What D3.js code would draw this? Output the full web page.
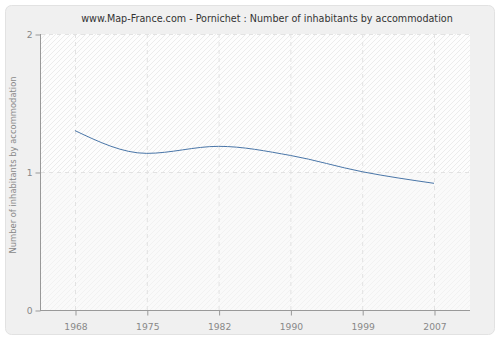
<!DOCTYPE html>
<html><head><meta charset="utf-8">
<script src="https://cdn.jsdelivr.net/npm/d3@7"></script>
<style>body{margin:0;background:#fff}svg{display:block}</style>
</head><body>
<svg id="c" width="500" height="340"></svg>
<script>
const years = ["1968","1975","1982","1990","1999","2007"];
const values = [1.30, 1.135, 1.186, 1.12, 1.002, 0.918];
const yTicks = [0, 1, 2];
const title = "www.Map-France.com - Pornichet : Number of inhabitants by accommodation";
const yLabel = "Number of inhabitants by accommodation";

const svg = d3.select("#c");
const font = "DejaVu Sans, Verdana, sans-serif";
const L = 41, R = 470, T = 34, B = 310;

svg.append("rect").attr("x",0).attr("y",0).attr("width",500).attr("height",340).attr("fill","#fff");
svg.append("rect").attr("x",5.5).attr("y",5.5).attr("width",489).attr("height",329).attr("rx",6)
  .attr("fill","#f0f0f0").attr("stroke","#e2e2e2");

const defs = svg.append("defs");
const p1 = defs.append("pattern").attr("id","h1").attr("patternUnits","userSpaceOnUse").attr("width",5).attr("height",5);
p1.append("rect").attr("width",5).attr("height",5).attr("fill","#fdfdfd");
p1.append("path").attr("d","M0,5L5,0M-1,1L1,-1M4,6L6,4").attr("stroke","#ececec").attr("stroke-width",1);
const p2 = defs.append("pattern").attr("id","h2").attr("patternUnits","userSpaceOnUse").attr("width",5).attr("height",5);
p2.append("rect").attr("width",5).attr("height",5).attr("fill","#fafafa");
p2.append("path").attr("d","M0,5L5,0M-1,1L1,-1M4,6L6,4").attr("stroke","#f2f2f2").attr("stroke-width",1);

const x = d3.scalePoint().domain(years).range([75, 434]);
const y = d3.scaleLinear().domain([0, 2]).range([B, T]);

svg.append("rect").attr("x",L).attr("y",T).attr("width",R-L).attr("height",y(1)-T).attr("fill","url(#h1)");
svg.append("rect").attr("x",L).attr("y",y(1)).attr("width",R-L).attr("height",B-y(1)).attr("fill","url(#h2)");

// grid
const g = svg.append("g");
years.forEach(yr => {
  g.append("line").attr("x1",x(yr)+0.5).attr("x2",x(yr)+0.5).attr("y1",T).attr("y2",B)
    .attr("stroke","#e2e2e2").attr("stroke-dasharray","4,4");
});
yTicks.filter(t=>t>0).forEach(t => {
  g.append("line").attr("x1",L).attr("x2",R).attr("y1",y(t)+0.5).attr("y2",y(t)+0.5)
    .attr("stroke","#e2e2e2").attr("stroke-dasharray","4,4");
});

// axes
const xa = svg.append("g").attr("transform",`translate(0.5,${B+0.5})`)
  .call(d3.axisBottom(x).tickSize(5).tickSizeOuter(0));
xa.select(".domain").remove();
svg.append("line").attr("x1",L-1).attr("x2",R).attr("y1",B+0.5).attr("y2",B+0.5).attr("stroke","#999");
const ya = svg.append("g").attr("transform",`translate(${L-0.5},0.5)`)
  .call(d3.axisLeft(y).tickValues(yTicks).tickFormat(d3.format("d")).tickSize(5).tickSizeOuter(0));
ya.select(".domain").remove();
svg.append("line").attr("x1",L-0.5).attr("x2",L-0.5).attr("y1",T).attr("y2",B+1).attr("stroke","#999");
[xa, ya].forEach(a => {
  a.selectAll("line").attr("stroke","#999");
  a.selectAll("text").attr("fill","#888").attr("font-family",font).attr("font-size",9.2);
});
xa.selectAll("text").attr("dy","1.2em");

// line
const line = d3.line().x((d,i)=>x(years[i])).y(d=>y(d)).curve(d3.curveMonotoneX);
svg.append("path").datum(values).attr("d",line).attr("fill","none")
  .attr("stroke","#4a76a8").attr("stroke-width",1);

svg.append("text").attr("x",267).attr("y",22).attr("text-anchor","middle")
  .attr("font-family",font).attr("font-size",9.6).attr("fill","#333").text(title);
svg.append("text").attr("transform","translate(16,165) rotate(-90)").attr("text-anchor","middle")
  .attr("font-family",font).attr("font-size",8.4).attr("fill","#888").text(yLabel);
</script>
</body></html>
